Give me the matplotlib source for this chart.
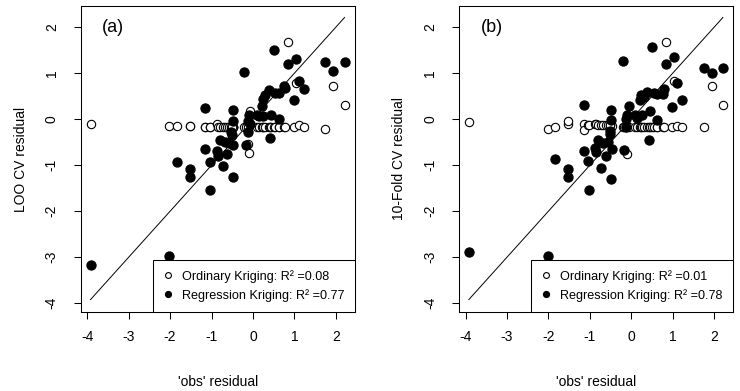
import matplotlib
matplotlib.use("Agg")
import matplotlib.pyplot as plt
from matplotlib.lines import Line2D

plt.rcParams['font.family'] = ['Liberation Sans', 'DejaVu Sans']

# observed residuals (shared x for both panels)
obs = [-3.92, -2.02, -1.84, -1.52, -1.53, -1.15, -1.15, -1.04, -1.03, -0.88,
       -0.84, -0.80, -0.72, -0.68, -0.62, -0.57, -0.49, -0.48, -0.49, -0.47,
       -0.52, -0.51, -0.21, -0.17, -0.13, -0.12, -0.10, -0.06, 0.10, 0.15,
       0.22, 0.24, 0.25, 0.30, 0.38, 0.42, 0.44, 0.50, 0.54, 0.62,
       0.62, 0.76, 0.78, 0.84, 0.98, 1.04, 1.10, 1.22, 1.75, 1.94, 2.21]

# panel (a): LOO CV residuals
ok_a = [-0.11, -0.14, -0.14, -0.14, -0.14, -0.16, -0.16, -0.16, -0.16, -0.10,
        -0.16, -0.16, -0.16, -0.16, -0.16, -0.16, -0.16, -0.16, -0.18, -0.16,
        -0.16, -0.16, -0.16, -0.16, -0.54, -0.16, -0.74, 0.18, -0.16, -0.16,
        -0.16, -0.16, -0.16, -0.16, -0.16, -0.16, -0.16, -0.16, -0.16, -0.16,
        -0.18, -0.18, -0.18, 1.67, -0.18, 0.78, -0.13, -0.16, -0.21, 0.72, 0.31]
rk_a = [-3.17, -2.97, -0.93, -1.08, -1.25, 0.24, -0.64, -0.93, -1.54, -0.69,
        -0.79, -0.46, -1.01, -0.49, -0.75, -0.52, 0.20, -0.05, -1.25, -0.57,
        -0.28, -0.34, 1.02, -0.57, -0.27, -0.05, 0.09, -0.10, 0.09, 0.08,
        0.28, 0.44, 0.06, 0.53, 0.64, -0.41, 0.09, 1.51, 0.57, 0.58,
        0.01, 0.72, 0.67, 1.20, 0.41, 1.30, 0.83, 0.66, 1.24, 1.05, 1.24]

# panel (b): 10-fold CV residuals
ok_b = [-0.07, -0.22, -0.17, -0.10, -0.05, -0.10, -0.23, -0.12, -0.12, -0.10,
        -0.10, -0.12, -0.12, -0.12, -0.12, -0.12, -0.12, -0.12, -0.12, -0.14,
        -0.12, -0.12, -0.16, -0.16, -0.16, -0.16, -0.75, -0.18, -0.18, -0.18,
        -0.18, -0.18, -0.18, -0.18, -0.18, -0.18, -0.18, -0.18, -0.18, -0.18,
        -0.18, -0.18, -0.18, 1.67, -0.18, 0.84, -0.14, -0.18, -0.18, 0.72, 0.31]
rk_b = [-2.89, -2.97, -0.87, -1.09, -1.25, 0.30, -0.69, -0.90, -1.54, -0.63,
        -0.72, -0.46, -1.07, -0.52, -0.80, -0.50, 0.20, -0.02, -1.30, -0.65,
        -0.25, -0.32, 1.27, -0.67, -0.16, 0.00, 0.09, 0.28, 0.09, 0.02,
        0.42, 0.53, 0.10, 0.49, 0.60, -0.45, 0.17, 1.57, 0.58, 0.54,
        -0.01, 0.54, 0.65, 1.20, 0.26, 1.35, 0.78, 0.42, 1.11, 1.00, 1.11]

ticks = [-4, -3, -2, -1, 0, 1, 2]
panels = [
    dict(ok=ok_a, rk=rk_a, tag="(a)", ylabel="LOO CV residual", r2_ok="0.08", r2_rk="0.77"),
    dict(ok=ok_b, rk=rk_b, tag="(b)", ylabel="10-Fold CV residual", r2_ok="0.01", r2_rk="0.78"),
]

fig = plt.figure(figsize=(7.4, 3.91), dpi=100)
lefts = [81 / 740, 459.3 / 740]
W, H = 740, 391
for p, left in zip(panels, lefts):
    ax = fig.add_axes([left, (H - 312) / H, 273.5 / W, 306 / H])
    lo, hi = min(obs), max(obs)
    ax.plot([lo, hi], [lo, hi], color='black', lw=0.7, zorder=1)
    ax.scatter(obs, p['ok'], s=36, facecolors='white', edgecolors='black', linewidths=0.8, zorder=2)
    ax.scatter(obs, p['rk'], s=44, facecolors='black', edgecolors='black', linewidths=0.8, zorder=3)
    ax.set_xlim(-4.15, 2.45)
    ax.set_ylim(-4.19, 2.46)
    ax.set_xticks(ticks)
    ax.set_yticks(ticks)
    ax.set_xticklabels([str(t) for t in ticks])
    ax.set_yticklabels([str(t) for t in ticks], rotation=90, va='center')
    ax.tick_params(direction='out', length=5, width=0.75, labelsize=10, colors='black')
    ax.tick_params(axis='x', pad=8)
    ax.tick_params(axis='y', pad=11)
    for s in ax.spines.values():
        s.set_linewidth(0.75)
        s.set_color('black')
    ax.set_xlabel("'obs' residual", fontsize=10, labelpad=22)
    ax.set_ylabel(p['ylabel'], fontsize=10, labelpad=12)
    ax.text(-3.37, 2.0, p['tag'], fontsize=13, ha='center', va='center')
    handles = [
        Line2D([], [], marker='o', ls='none', markersize=4.2, markerfacecolor='white',
               markeredgecolor='black', markeredgewidth=0.8),
        Line2D([], [], marker='o', ls='none', markersize=4.2, markerfacecolor='black',
               markeredgecolor='black'),
    ]
    labels = ["Ordinary Kriging: R\u00b2 =" + p['r2_ok'],
              "Regression Kriging: R\u00b2 =" + p['r2_rk']]
    leg = ax.legend(handles, labels, loc='lower right', borderaxespad=0, fancybox=False,
                    fontsize=9.1, handlelength=0.8, handletextpad=0.7, borderpad=0.8,
                    labelspacing=0.5, framealpha=1)
    leg.get_frame().set_edgecolor('black')
    leg.get_frame().set_linewidth(0.75)

fig.savefig("out.png", dpi=100)
